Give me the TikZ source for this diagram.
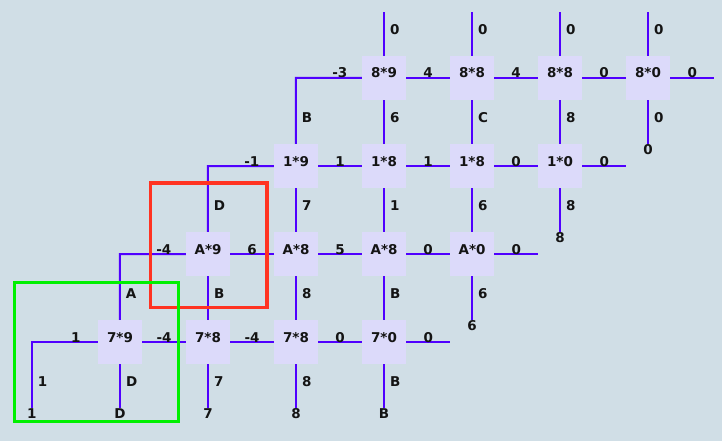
\documentclass[tikz,border=0pt]{standalone}
\usepackage{fontspec}
\setmainfont{DejaVu Sans}
\usepackage{tikz}
\definecolor{bg}{HTML}{D0DEE6}
\definecolor{cellbg}{HTML}{DCDAFA}
\definecolor{wire}{HTML}{5000FF}
\definecolor{ink}{HTML}{141414}
\definecolor{redfr}{HTML}{FF3322}
\definecolor{greenfr}{HTML}{00F000}
\tikzset{
  cell/.style={fill=cellbg, draw=none, minimum size=44pt, inner sep=0pt,
    text height=10pt, text depth=10pt, text=ink,
    font=\bfseries\fontsize{13.5}{14}\selectfont},
  wireln/.style={draw=wire, line width=2pt},
  hlab/.style={anchor=base, inner sep=0pt, text=ink,
    font=\bfseries\fontsize{13.5}{14}\selectfont},
  vlab/.style={anchor=west, inner sep=0pt, xshift=5pt, text=ink,
    font=\bfseries\fontsize{13.5}{14}\selectfont},
  elab/.style={anchor=north, inner sep=0pt, text=ink,
    font=\bfseries\fontsize{13.5}{14}\selectfont},
  frameR/.style={draw=redfr, line width=3.5pt},
  frameG/.style={draw=greenfr, line width=3pt}
}
\begin{document}
\begin{tikzpicture}[x=1pt, y=-1pt]
  \fill[bg] (0,0) rectangle (722,441);
  \useasboundingbox (0,0) rectangle (722,441);

  % cells
  \foreach \r/\a in {1/8,2/1,3/A,4/7}
    \foreach \c/\b in {1/9,2/8,3/8,4/0}
      \node[cell] (n\r\c) at ({384-88*(\r-1)+88*(\c-1)}, {78+88*(\r-1)}) {\a*\b};

  % free ends
  \foreach \c in {1,...,4} {
    \coordinate (t\c) at ([yshift=44pt]n1\c.north);
    \coordinate (b\c) at ([yshift=-44pt]n4\c.south);
  }
  \foreach \r in {1,...,4} {
    \coordinate (e\r) at ([xshift=44pt]n\r4.east);
    \coordinate (d\r) at ([yshift=-44pt]n\r4.south);
    \coordinate (k\r) at ([xshift=-66pt]n\r1.west);
  }
  \coordinate (f4) at ([yshift=-66pt]k4);

  % top stubs
  \foreach \c in {1,...,4}
    \draw[wireln] (n1\c) -- node[vlab, pos=0.59]{0} (t\c);

  % rows
  \foreach \r/\p/\q/\s in {1/4/4/0, 2/1/1/0, 3/6/5/0, 4/-4/-4/0} {
    \draw[wireln] (n\r1) -- node[hlab]{\p} (n\r2);
    \draw[wireln] (n\r2) -- node[hlab]{\q} (n\r3);
    \draw[wireln] (n\r3) -- node[hlab]{\s} (n\r4);
    \draw[wireln] (n\r4) -- node[hlab]{0} (e\r);
  }

  % corners
  \draw[wireln] (n11) -- node[hlab, pos=0.333]{-3} (k1) -- node[vlab, pos=0.6]{B} (n21);
  \draw[wireln] (n21) -- node[hlab, pos=0.333]{-1} (k2) -- node[vlab, pos=0.6]{D} (n31);
  \draw[wireln] (n31) -- node[hlab, pos=0.333]{-4} (k3) -- node[vlab, pos=0.6]{A} (n41);
  \draw[wireln] (n41) -- node[hlab, pos=0.333]{1} (k4) -- node[vlab, pos=0.6]{1} (f4);
  \node[elab] (lf4) at (f4) {1};

  % columns
  \foreach \r/\s/\x/\y/\z/\w in {1/2/6/C/8/0, 2/3/7/1/6/8, 3/4/B/8/B/6} {
    \draw[wireln] (n\r1) -- node[vlab, pos=0.4]{\x} (n\s2);
    \draw[wireln] (n\r2) -- node[vlab, pos=0.4]{\y} (n\s3);
    \draw[wireln] (n\r3) -- node[vlab, pos=0.4]{\z} (n\s4);
    \draw[wireln] (n\r4) -- node[vlab, pos=0.4]{\w} (d\r);
    \node[elab] (ld\r) at (d\r) {\w};
  }

  % bottom row
  \foreach \c/\x in {1/D,2/7,3/8,4/B} {
    \draw[wireln] (n4\c) -- node[vlab, pos=0.4]{\x} (b\c);
    \node[elab] (lb\c) at (b\c) {\x};
  }

  % frames
  \draw[frameR] (150.5,183) rectangle (267,307.5);
  \draw[frameG] (14.5,282.5) rectangle (178.5,421.5);
\end{tikzpicture}
\end{document}
